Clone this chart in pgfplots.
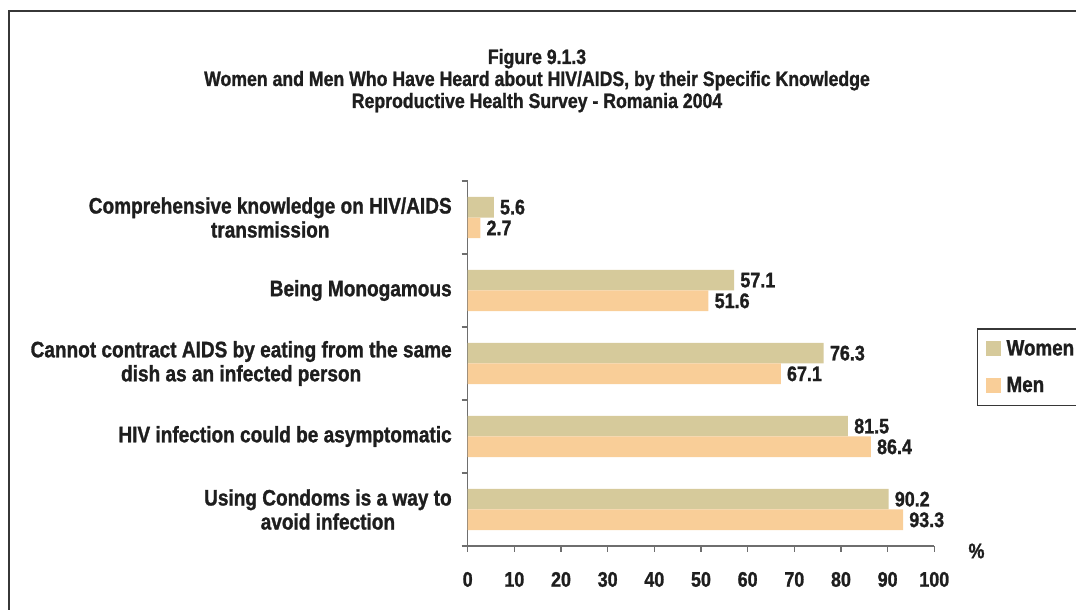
\documentclass[border=0pt]{standalone}
\usepackage{fontspec}
\setmainfont{Liberation Sans}[FakeStretch=0.85, BoldFeatures={FakeBold=1.2}]
\usepackage{pgfplots}
\pgfplotsset{compat=1.18}
\definecolor{women}{RGB}{214,202,155}
\definecolor{men}{RGB}{249,206,152}
\definecolor{axisgray}{RGB}{110,110,110}
\definecolor{framegray}{RGB}{55,55,55}
\definecolor{txt}{RGB}{30,30,30}
\newcommand\titlefont{\bfseries\fontsize{15.6}{18}\selectfont}
\newcommand\catfont{\bfseries\fontsize{16.8}{18}\selectfont}
\newcommand\numfont{\bfseries\fontsize{15.8}{18}\selectfont}
\newcommand\legfont{\bfseries\fontsize{16.6}{18}\selectfont}
\begin{document}
\begin{tikzpicture}[x=0.75pt,y=0.75pt]
\path[use as bounding box] (0,0) rectangle (1076,610);
\draw[framegray, line width=1.3pt] (9,599) rectangle (1110,-30);
\node[font=\titlefont, text=txt, anchor=base] at (537,546) {Figure 9.1.3};
\node[font=\titlefont, text=txt, anchor=base] at (537,524) {Women and Men Who Have Heard about HIV/AIDS, by their Specific Knowledge};
\node[font=\titlefont, text=txt, anchor=base] at (537,502) {Reproductive Health Survey - Romania 2004};
\begin{axis}[
  at={(350.775pt,48pt)}, anchor=south west,
  scale only axis, width=349.95pt, height=273.75pt,
  xmin=0, xmax=100, ymin=-0.5, ymax=4.5,
  xbar, bar width=0.2836,
  axis x line=bottom, axis y line=left,
  x axis line style={-, draw=axisgray, line width=0.8pt},
  y axis line style={-, draw=axisgray, line width=0.8pt},
  tick align=outside, major tick length=4.5pt,
  tick style={draw=axisgray, line width=0.8pt},
  xtick={0,10,...,100},
  ytick={-0.5,0.5,1.5,2.5,3.5,4.5}, yticklabels={},
  extra y ticks={0,1,2,3,4},
  extra y tick labels={{Using Condoms is a way to\\avoid infection},
    {HIV infection could be asymptomatic},
    {Cannot contract AIDS by eating from the same\\dish as an infected person},
    {Being Monogamous},
    {Comprehensive knowledge on HIV/AIDS\\transmission}},
  extra y tick style={major tick length=0pt,
    yticklabel style={font=\catfont, text=txt, align=center, anchor=east, inner sep=0pt, xshift=-11.8pt}},
  /pgf/number format/assume math mode=true,
  xticklabel style={font=\numfont, text=txt, inner sep=0pt, anchor=north, yshift=-14.8pt},
  nodes near coords,
  nodes near coords style={font=\numfont, text=txt, anchor=west, inner sep=0pt, xshift=4.5pt},
  legend image code/.code={\fill[#1] (0pt,-5.625pt) rectangle (11.25pt,5.625pt);},
  legend style={at={(axis description cs:1.0909,0.5964)}, anchor=north west,
    draw=framegray, line width=0.9pt, font=\legfont, text=txt,
    inner xsep=6.2pt, inner ysep=8.5pt, row sep=14.5pt,
    nodes={inner sep=0pt}, /tikz/every odd column/.style={column sep=4.5pt}},
  legend cell align=left,
  clip=false,
]
\addplot[fill=women, draw=none, bar shift=0.1418] coordinates {(90.2,0) (81.5,1) (76.3,2) (57.1,3) (5.6,4)};
\addplot[fill=men, draw=none, bar shift=-0.1418] coordinates {(93.3,0) (86.4,1) (67.1,2) (51.6,3) (2.7,4)};
\legend{Women, Men}
\end{axis}
\node[font=\numfont, text=txt] at (976.5,59) {\%};
\end{tikzpicture}
\end{document}
